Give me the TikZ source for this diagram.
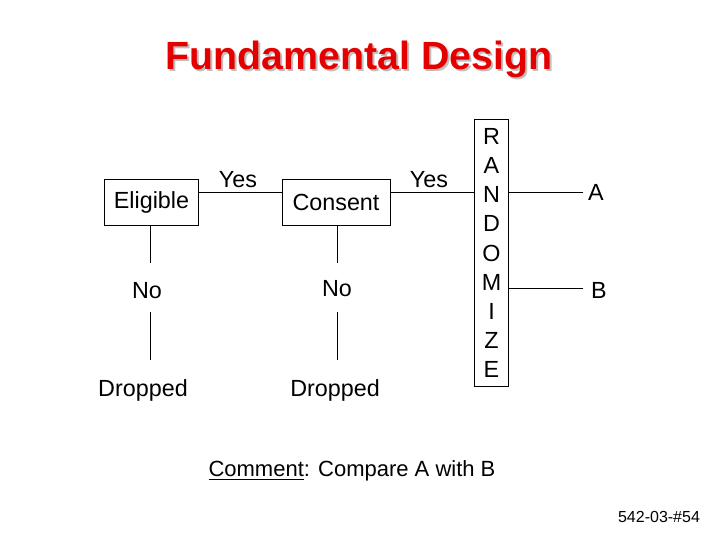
\documentclass[tikz,border=0pt]{standalone}
\usepackage{fontspec}
\setmainfont{Liberation Sans}
\begin{document}
\begin{tikzpicture}[x=0.75pt,y=-0.75pt,
  lab/.style={font=\fontsize{17.5}{20}\selectfont, inner sep=0pt},
  bx/.style={draw, line width=0.6pt, minimum width=#1, minimum height=34pt, font=\fontsize{17.5}{20}\selectfont},
  ln/.style={line width=0.6pt}]
\useasboundingbox (0,0) rectangle (720,540);
\node[font=\fontsize{29.5}{32}\bfseries, text=black!25] at (361,61) {Fundamental Design};
\node (title) [font=\fontsize{29.5}{32}\bfseries, text=red!90!black] at (359,59) {Fundamental Design};
\node (el) [bx=70pt] at (151.5,202.5) {Eligible};
\node (co) [bx=81pt] at (336,202.5) {Consent};
\node (ra) [draw, line width=0.6pt, minimum width=26pt, minimum height=200pt, inner sep=0pt] at (491.5,253) {};
\node[lab, align=center, font=\fontsize{17.5}{21.8}\selectfont] at (491.5,253) {R\\A\\N\\D\\O\\M\\I\\Z\\E};
\node (y1) [lab] at (238,180) {Yes};
\node (y2) [lab] at (429,180) {Yes};
\node (n1) [lab] at (147,291) {No};
\node (n2) [lab] at (337,289) {No};
\node (d1) [lab] at (143,390) {Dropped};
\node (d2) [lab] at (335,390) {Dropped};
\node (a) [lab] at (596,192) {A};
\node (b) [lab] at (599,290) {B};
\coordinate (ra1) at (474,192); \coordinate (ra2) at (509,192); \coordinate (ra3) at (509,288);
\coordinate (ea) at (583,192); \coordinate (eb) at (583,288);
\draw[ln] (el.east |- 0,192) -- (co.west |- 0,192);
\draw[ln] (co.east |- 0,192) -- (ra1);
\draw[ln] (ra2) -- (ea);
\draw[ln] (ra3) -- (eb);
\draw[ln] (150,225) -- (150,263);
\draw[ln] (150,312) -- (150,360);
\draw[ln] (337,225) -- (337,263);
\draw[ln] (337,312) -- (337,360);
\node (cm) [lab, font=\fontsize{16.5}{20}\selectfont] at (352,471) {\underline{Comment}: Compare A with B};
\node (pg) [font=\fontsize{12}{14}\selectfont, inner sep=0pt] at (659,517) {542-03-\#54};
\end{tikzpicture}
\end{document}
